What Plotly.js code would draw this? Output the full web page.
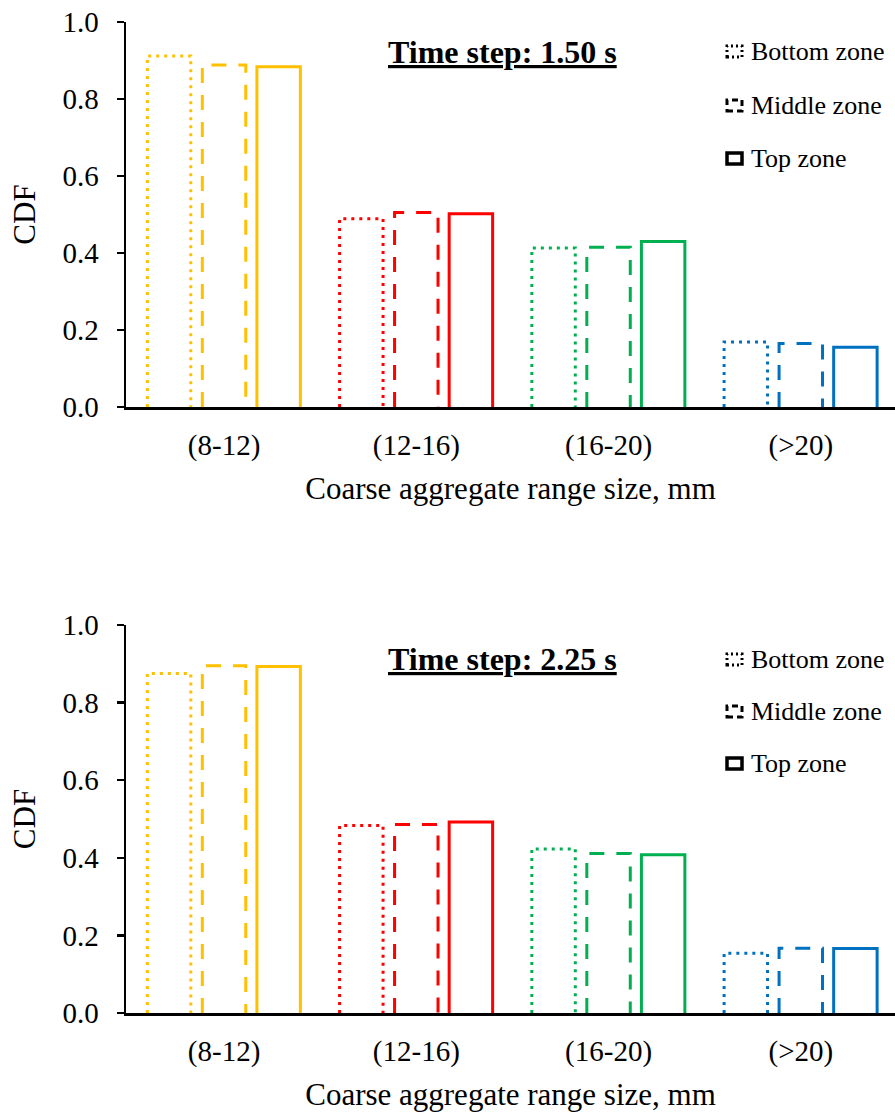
<!DOCTYPE html>
<html><head><meta charset="utf-8">
<script src="https://cdn.plot.ly/plotly-3.0.1.min.js"></script>
<style>html,body{margin:0;padding:0;background:#fff}</style>
</head><body><div id="chart" style="width:895px;height:1113px"></div>
<script>
// ---- data ----
const categories = ['(8-12)', '(12-16)', '(16-20)', '(>20)'];
const categoryColors = ['#FFC000', '#FF0000', '#00B050', '#0070C0'];
const zones = ['Bottom zone', 'Middle zone', 'Top zone'];
const panelTitles = ['Time step: 1.50 s', 'Time step: 2.25 s'];
const yTickVals = [0, 0.2, 0.4, 0.6, 0.8, 1.0];

const t150Bottom = [0.912, 0.489, 0.413, 0.169];
const t150Middle = [0.888, 0.505, 0.415, 0.165];
const t150Top    = [0.884, 0.502, 0.430, 0.155];

const t225Bottom = [0.875, 0.483, 0.423, 0.154];
const t225Middle = [0.895, 0.486, 0.411, 0.167];
const t225Top    = [0.893, 0.492, 0.408, 0.166];

// ---- layout constants ----
const W = 895, H = 1113, L = 126, R = 0, T = 22, B = 100;
const PW = W - L - R, PH = H - T - B;
const px = v => (v - L) / PW;
const py = v => 1 - (v - T) / PH;
const FONT = 'Liberation Serif, Times New Roman, serif';

const panels = [
  {xa: 'x', ya: 'y', series: [t150Bottom, t150Middle, t150Top], dom: [py(407), 1], titleY: 52, legY: [51, 105, 158]},
  {xa: 'x2', ya: 'y2', series: [t225Bottom, t225Middle, t225Top], dom: [0, py(625)], titleY: 659, legY: [659, 711, 763]}
];
const zoneOffset = [-0.286, 0, 0.284];
const halfWidth = 0.113;
const zoneDash = ['3px,5px', '15px,12px', 'solid'];

const traces = [];
panels.forEach(p => {
  p.series.forEach((vals, z) => {
    vals.forEach((v, i) => {
      const c = i + zoneOffset[z];
      traces.push({
        type: 'scatter', mode: 'lines', xaxis: p.xa, yaxis: p.ya,
        x: [c - halfWidth, c - halfWidth, c + halfWidth, c + halfWidth],
        y: [0, v, v, 0],
        line: {color: categoryColors[i], width: 3, dash: zoneDash[z]},
        showlegend: false, hoverinfo: 'skip', name: zones[z]
      });
    });
  });
});

function xAxis(anchor) {
  return {
    anchor: anchor, domain: [0, 1], range: [-0.51, 3.49],
    tickvals: [0, 1, 2, 3], ticktext: categories, ticks: '',
    ticklabelstandoff: 11,
    showline: true, linecolor: '#000', linewidth: 2.5,
    showgrid: false, zeroline: false,
    tickfont: {family: FONT, size: 29, color: '#000'},
    title: {text: 'Coarse aggregate range size, mm', font: {family: FONT, size: 31, color: '#000'}, standoff: 16}
  };
}
function yAxis(anchor, dom) {
  return {
    anchor: anchor, domain: dom, range: [0, 1],
    tickvals: yTickVals, tickformat: '.1f',
    ticks: 'outside', ticklen: 7, tickwidth: 2.5, tickcolor: '#000',
    ticklabelstandoff: 12,
    showline: true, linecolor: '#000', linewidth: 2.5,
    showgrid: false, zeroline: false,
    tickfont: {family: FONT, size: 29, color: '#000'},
    title: {text: 'CDF', font: {family: FONT, size: 31, color: '#000'}, standoff: 18}
  };
}

const annotations = [];
const shapes = [];
panels.forEach((p, k) => {
  annotations.push({
    xref: 'paper', yref: 'paper', x: px(502), y: py(p.titleY),
    xanchor: 'center', yanchor: 'middle', showarrow: false,
    text: '<b><u>' + panelTitles[k] + '</u></b>',
    font: {family: FONT, size: 32, color: '#000'}
  });
  zones.forEach((zname, z) => {
    const yc = p.legY[z];
    annotations.push({
      xref: 'paper', yref: 'paper', x: px(749), y: py(yc),
      xanchor: 'left', yanchor: 'middle', showarrow: false,
      text: zname, font: {family: FONT, size: 26, color: '#000'}
    });
    shapes.push({
      type: 'rect', xref: 'paper', yref: 'paper',
      x0: px(727), x1: px(742), y0: py(yc + 6), y1: py(yc - 5),
      line: {color: '#000', width: z === 2 ? 3.5 : 3, dash: z === 0 ? '2px,3px' : (z === 1 ? '6px,4px' : 'solid')},
      fillcolor: 'rgba(0,0,0,0)'
    });
  });
});

const layout = {
  width: W, height: H,
  margin: {l: L, r: R, t: T, b: B, pad: 0},
  paper_bgcolor: '#fff', plot_bgcolor: '#fff',
  showlegend: false,
  xaxis: xAxis('y'), yaxis: yAxis('x', panels[0].dom),
  xaxis2: xAxis('y2'), yaxis2: yAxis('x2', panels[1].dom),
  annotations: annotations, shapes: shapes
};

Plotly.newPlot('chart', traces, layout, {displayModeBar: false, staticPlot: true});
</script>
</body></html>
